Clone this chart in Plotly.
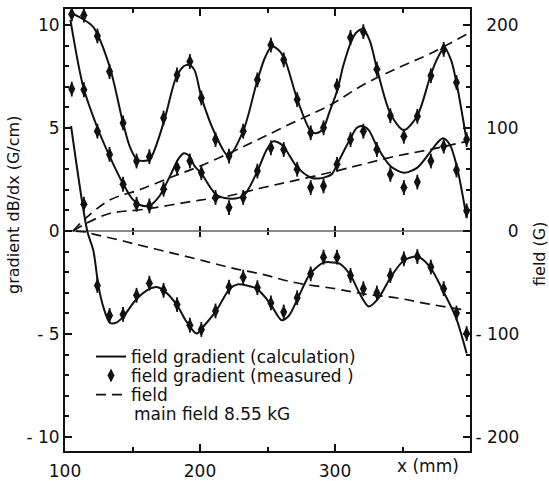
import plotly.graph_objects as go

# ---- calculated field gradient (G/cm) ----
calc_a_x = [104, 113, 121, 133, 143, 148, 153, 158, 163, 173, 182, 188, 192, 196, 201, 212, 221, 232, 242, 248, 253, 258, 263, 272, 282, 286, 291, 296, 302, 306, 312, 316, 321, 326, 331, 341, 351, 361, 371, 376, 381, 386, 390, 397.5]
calc_a_y = [10.6, 10.3, 9.9, 8.0, 5.25, 4.1, 3.5, 3.4, 3.5, 5.25, 7.4, 8.0, 8.07, 7.8, 6.5, 4.6, 3.65, 4.85, 7.2, 8.4, 8.95, 8.8, 8.3, 6.4, 4.85, 4.75, 4.95, 5.8, 6.9, 8.0, 9.2, 9.65, 9.8, 9.2, 7.9, 5.7, 4.9, 5.6, 7.6, 8.4, 8.9, 8.3, 7.2, 4.4]

calc_b_x = [104, 113.5, 123.5, 133, 143, 150, 156, 163, 170, 178, 184, 188, 192, 196, 201, 211.5, 221, 232, 242.5, 249, 254, 258, 262, 272, 282, 288, 297.5, 302, 311.5, 316, 320, 325, 331, 341, 351, 361, 371, 376, 380, 385, 390, 397.5]
calc_b_y = [10.25, 7.0, 5.1, 3.64, 2.3, 1.55, 1.25, 1.25, 1.7, 2.7, 3.5, 3.78, 3.65, 3.15, 2.8, 1.8, 1.58, 1.7, 2.9, 3.9, 4.35, 4.3, 4.1, 3.1, 2.6, 2.55, 2.75, 3.3, 4.5, 5.0, 5.1, 4.9, 4.12, 3.16, 2.83, 3.08, 3.88, 4.3, 4.5, 4.2, 3.2, 0.65]

calc_c_x = [104.5, 116.5, 121, 124.7, 128.4, 133.3, 138, 143, 153, 163, 168, 173, 182.7, 190, 197.5, 203, 212, 222, 228, 235, 242, 252, 260.5, 266, 272.4, 281.5, 291, 296, 303.7, 311.6, 318, 325, 332, 342, 351, 361, 370.4, 380, 389.6, 397.5]
calc_c_y = [5.1, 0.0, -0.95, -2.64, -3.69, -4.46, -4.45, -4.17, -3.3, -2.8, -2.72, -2.88, -3.57, -4.4, -4.98, -4.6, -3.88, -2.8, -2.59, -2.65, -2.8, -3.52, -4.33, -4.1, -3.28, -2.08, -1.55, -1.51, -1.59, -2.16, -3.0, -3.66, -3.28, -2.16, -1.43, -1.24, -1.75, -2.9, -4.2, -5.94]

# ---- measured field gradient (G/cm) ----
meas_x = [105, 114, 124, 133, 143, 153, 162.5, 173, 183, 192.5, 201, 211.5, 221.5, 232, 242.5, 252.5, 262, 272, 282, 291.5, 301.5, 311.5, 321, 331, 341, 351, 361, 371, 380.5, 390, 397.5]
meas_a = [10.53, 10.48, 9.47, 7.74, 5.25, 3.40, 3.61, 5.49, 7.58, 8.23, 6.46, 4.44, 3.64, 4.85, 7.34, 9.03, 8.31, 6.38, 4.77, 5.01, 7.05, 9.40, 9.68, 7.86, 5.60, 4.60, 5.57, 7.54, 8.82, 7.21, 4.44]
meas_b = [6.89, 6.86, 4.85, 3.72, 2.27, 1.30, 1.22, 2.03, 3.08, 3.40, 2.83, 1.63, 1.14, 1.63, 2.91, 4.04, 3.96, 3.00, 2.11, 2.19, 3.24, 4.44, 4.85, 3.96, 2.75, 2.11, 2.38, 3.40, 4.12, 2.96, 0.98]
meas_c_x = meas_x[1:]
meas_c = [1.3, -2.64, -4.1, -4.05, -3.12, -2.53, -2.88, -3.57, -4.57, -4.78, -3.88, -2.72, -2.24, -2.75, -3.49, -3.93, -3.24, -2.08, -1.27, -1.27, -2.16, -2.80, -3.01, -2.16, -1.35, -1.24, -1.75, -2.80, -3.98, -4.98]
meas_err = 0.36

# ---- field (G) ----
field_a_x = [106, 115, 133, 155, 180, 200, 224, 245, 270, 296, 321, 346, 370, 397.5]
field_a = [0, 12, 30, 40, 53, 63, 77, 90, 106, 122, 142, 158, 172, 191]
field_b_x = [106, 115, 133, 158, 200, 221, 246, 270, 300, 321, 346, 370, 397.5]
field_b = [0, 7, 17, 21, 30, 34, 42, 49, 58, 65, 73, 79, 87]
field_c_x = [108, 116, 121, 138, 150, 175, 200, 224, 246, 270, 300, 321, 346, 370, 397.5]
field_c = [0, -1, -3, -8, -12, -20, -28, -36, -42, -50, -56, -61, -65, -71, -77]

y_range = [-10.68, 10.78]
x_range = [100, 400]
left_ticks = [-10, -5, 0, 5, 10]
left_ticktext = ["- 10", "- 5", "0", "5", "10"]
right_ticks = [-200, -100, 0, 100, 200]
right_ticktext = ["- 200", "- 100", "\u2007\u2007\u20070", "\u2007100", "\u2007200"]
x_ticks = [100, 200, 300]
x_ticktext = ["100", "200", "300"]

FONT = "DejaVu Sans, Liberation Sans, sans-serif"
INK = "#111111"

# plot area in pixels (for placing legend rows / labels in paper coordinates)
PL, PR, PT, PB = 65, 470, 9, 451
def px_x(p):
    return (p - PL) / (PR - PL)
def px_y(p):
    return (PB - p) / (PB - PT)

fig = go.Figure()

solid = dict(color=INK, width=2)
for i, (cx, cy) in enumerate([(calc_a_x, calc_a_y), (calc_b_x, calc_b_y), (calc_c_x, calc_c_y)]):
    fig.add_trace(go.Scatter(x=cx, y=cy, mode="lines", line=dict(shape="spline", smoothing=0.8, **solid),
                             name="field gradient (calculation)", showlegend=(i == 0), legend="legend"))

for i, (mx, my) in enumerate([(meas_x, meas_a), (meas_x, meas_b), (meas_c_x, meas_c)]):
    fig.add_trace(go.Scatter(x=mx, y=my, mode="markers",
                             marker=dict(symbol="diamond-tall", size=10, color=INK),
                             error_y=dict(type="constant", value=meas_err, thickness=1.8, width=0, color=INK),
                             name="field gradient (measured )", showlegend=(i == 0), legend="legend2"))

for i, (fx, fy) in enumerate([(field_a_x, field_a), (field_b_x, field_b), (field_c_x, field_c)]):
    fig.add_trace(go.Scatter(x=fx, y=fy, yaxis="y2", mode="lines",
                             line=dict(shape="spline", color=INK, width=1.7, dash="10px,6px"),
                             name="field", showlegend=(i == 0), legend="legend3"))

zero_pos = (0 - y_range[0]) / (y_range[1] - y_range[0])

leg_common = dict(xanchor="left", yanchor="middle", bgcolor="rgba(0,0,0,0)",
                  font=dict(size=17, family=FONT, color=INK), itemwidth=30)
leg_x = px_x(91)

fig.update_layout(
    width=549, height=481,
    margin=dict(l=PL, r=549 - PR, t=PT, b=481 - PB, autoexpand=False),
    paper_bgcolor="white", plot_bgcolor="white",
    font=dict(family=FONT, size=17, color=INK),
    showlegend=True,
    legend=dict(x=leg_x, y=px_y(357), **leg_common),
    legend2=dict(x=leg_x, y=px_y(376), **leg_common),
    legend3=dict(x=leg_x, y=px_y(395), **leg_common),
    xaxis=dict(range=x_range, showgrid=False, zeroline=False, showline=True, linecolor=INK, linewidth=2,
               mirror="ticks", ticks="inside", ticklen=7, tickwidth=2, tickcolor=INK, automargin=False,
               tickvals=x_ticks, ticktext=x_ticktext, ticklabelstandoff=4,
               minor=dict(dtick=50, tick0=100, ticks="inside", ticklen=4, tickwidth=1.5, tickcolor=INK)),
    xaxis2=dict(range=x_range, overlaying="x", anchor="free", position=zero_pos, showgrid=False,
                zeroline=False, showline=False, showticklabels=False, ticks="outside", ticklen=5,
                tickwidth=1.5, tickcolor=INK, tickvals=[200, 300], automargin=False,
                minor=dict(tickvals=[150, 250, 350], ticks="outside", ticklen=3, tickwidth=1.5, tickcolor=INK)),
    xaxis3=dict(range=x_range, overlaying="x", anchor="free", position=zero_pos, showgrid=False,
                zeroline=False, showline=False, showticklabels=False, ticks="inside", ticklen=5,
                tickwidth=1.5, tickcolor=INK, tickvals=[200, 300], automargin=False,
                minor=dict(tickvals=[150, 250, 350], ticks="inside", ticklen=3, tickwidth=1.5, tickcolor=INK)),
    yaxis=dict(range=y_range, showgrid=False, zeroline=True, zerolinecolor="#8a8a8a", zerolinewidth=2,
               showline=True, linecolor=INK, linewidth=2, ticks="inside", ticklen=7, tickwidth=2,
               tickcolor=INK, tickvals=left_ticks, ticktext=left_ticktext, automargin=False,
               minor=dict(dtick=1, tick0=0, ticks="inside", ticklen=4, tickwidth=1.5, tickcolor=INK)),
    yaxis2=dict(range=[y_range[0] * 20, y_range[1] * 20], overlaying="y", side="right", showgrid=False,
                zeroline=False, showline=True, linecolor=INK, linewidth=2, ticks="inside", ticklen=7,
                tickwidth=2, tickcolor=INK, tickvals=right_ticks, ticktext=right_ticktext, automargin=False,
                minor=dict(dtick=20, tick0=0, ticks="inside", ticklen=4, tickwidth=1.5, tickcolor=INK)),
    annotations=[
        dict(text="gradient dB/dx (G/cm)", xref="paper", yref="paper", x=px_x(13), y=px_y(205),
             textangle=-90, showarrow=False, font=dict(size=16), xanchor="center", yanchor="middle"),
        dict(text="field (G)", xref="paper", yref="paper", x=px_x(539), y=px_y(254),
             textangle=-90, showarrow=False, font=dict(size=16), xanchor="center", yanchor="middle"),
        dict(text="x (mm)", xref="paper", yref="paper", x=px_x(428), y=px_y(466),
             showarrow=False, font=dict(size=17), xanchor="center", yanchor="middle"),
        dict(text="main field 8.55 kG", xref="paper", yref="paper", x=px_x(132), y=px_y(414),
             showarrow=False, font=dict(size=17), xanchor="left", yanchor="middle"),
    ],
)

# attach placeholder traces so the tick-only zero axes render
fig.add_trace(go.Scatter(x=[None], y=[None], xaxis="x2", showlegend=False, hoverinfo="skip"))
fig.add_trace(go.Scatter(x=[None], y=[None], xaxis="x3", showlegend=False, hoverinfo="skip"))

fig.write_html("out.html")
